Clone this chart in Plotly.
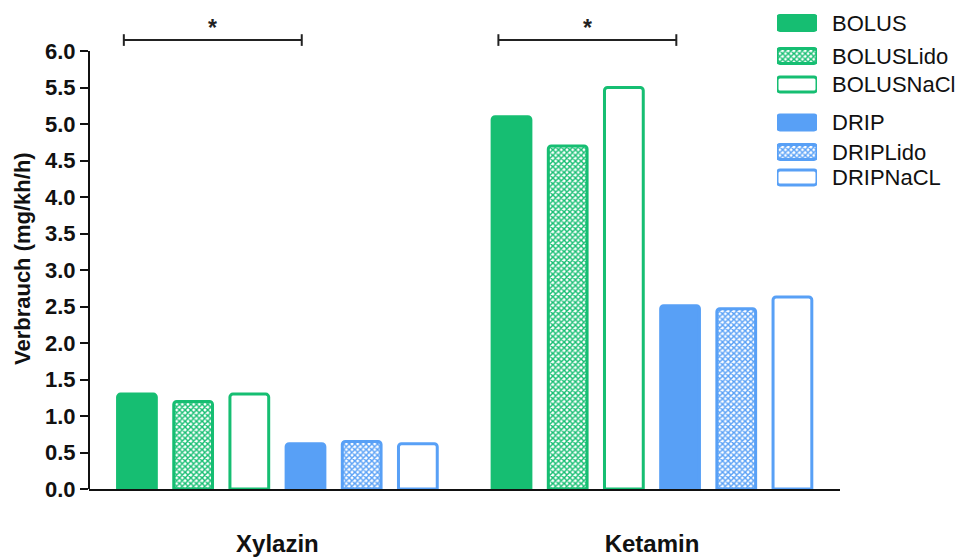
import plotly.graph_objects as go

# Data
drugs = ["Xylazin", "Ketamin"]
groups = ["BOLUS", "BOLUSLido", "BOLUSNaCl", "DRIP", "DRIPLido", "DRIPNaCL"]
bolus = [1.30, 5.10]
bolus_lido = [1.20, 4.70]
bolus_nacl = [1.30, 5.50]
drip = [0.62, 2.51]
drip_lido = [0.65, 2.47]
drip_nacl = [0.62, 2.63]
series = [bolus, bolus_lido, bolus_nacl, drip, drip_lido, drip_nacl]
y_ticks = [0, 0.5, 1, 1.5, 2, 2.5, 3, 3.5, 4, 4.5, 5, 5.5, 6]
# significance brackets: (drug index, first group index, last group index, label)
brackets = [(0, 0, 3, "*"), (1, 0, 3, "*")]

# Styles
GREEN = "#16BE72"
BLUE = "#58A0F6"
colors = [GREEN, GREEN, GREEN, BLUE, BLUE, BLUE]
fills = ["solid", "pattern", "open", "solid", "pattern", "open"]
FONT = "Liberation Sans, Arial, sans-serif"
BARGAP = 0.10
BARGROUPGAP = 0.31
LINE_W = 3


def marker_for(color, fill):
    m = dict(line=dict(color=color, width=LINE_W), cornerradius=3)
    if fill == "solid":
        m["color"] = color
    elif fill == "open":
        m["color"] = "white"
    else:
        m["color"] = "white"
        m["pattern"] = dict(shape="x", size=4, solidity=0.6,
                            fgcolor=color, bgcolor="white", fillmode="replace")
    return m


fig = go.Figure()
for name, vals, c, f in zip(groups, series, colors, fills):
    fig.add_trace(go.Bar(x=drugs, y=vals, name=name, marker=marker_for(c, f),
                         showlegend=False, xaxis="x", yaxis="y"))

# Legend: an inset of horizontal swatches with the group names on the right
legend_pos = [23, 56, 84.5, 122.5, 152, 177.5]
for name, ypos, c, f in zip(groups, legend_pos, colors, fills):
    fig.add_trace(go.Bar(
        y=[ypos], x=[1], base=0, orientation="h", width=15, offsetgroup="legend",
        marker=marker_for(c, f), showlegend=False, hoverinfo="skip",
        xaxis="x2", yaxis="y2",
    ))

# bar slot geometry for bracket placement
slot_w = (1 - BARGAP) / len(groups)


def slot_center(drug_idx, g_idx):
    return drug_idx + (g_idx - (len(groups) - 1) / 2) * slot_w


shapes = [
    # y axis line up to the top tick only
    dict(type="line", xref="paper", yref="y", x0=0, x1=0, y0=0, y1=6,
         line=dict(color="#111111", width=2)),
]
annotations = []
for d, g0, g1, lab in brackets:
    x0 = slot_center(d, g0) - 0.035
    x1 = slot_center(d, g1) - 0.01
    yb = 6.15
    shapes.append(dict(type="line", xref="x", yref="y", x0=x0, x1=x1, y0=yb, y1=yb,
                       line=dict(color="#222222", width=2)))
    for xx in (x0, x1):
        shapes.append(dict(type="line", xref="x", yref="y", x0=xx, x1=xx,
                           y0=yb - 0.08, y1=yb + 0.08,
                           line=dict(color="#222222", width=2)))
    annotations.append(dict(x=(x0 + x1) / 2, y=yb, yshift=-3, xref="x", yref="y",
                            text=lab, showarrow=False, yanchor="bottom",
                            font=dict(family=FONT, size=23, color="#222222",
                                      weight="bold")))

annotations.append(dict(xref="paper", x=0, xshift=-67, yref="y", y=3.15,
                        text="Verbrauch (mg/kh/h)", textangle=-90, showarrow=False,
                        xanchor="center", yanchor="middle",
                        font=dict(family=FONT, size=22, color="#111111", weight="bold")))

plot_top_px = 14
plot_bottom_px = 489
px_per_unit = 73
y_top = (plot_bottom_px - plot_top_px) / px_per_unit

fig.update_layout(
    width=960, height=558,
    margin=dict(l=89, r=120, t=plot_top_px, b=558 - plot_bottom_px, autoexpand=False),
    paper_bgcolor="white", plot_bgcolor="white",
    barmode="group", bargap=BARGAP, bargroupgap=BARGROUPGAP,
    showlegend=False,
    font=dict(family=FONT, color="#111111"),
    xaxis=dict(
        type="category", range=[-0.503, 1.502], showline=True, linecolor="#111111",
        linewidth=2, ticks="", showgrid=False, zeroline=False,
        tickfont=dict(family=FONT, size=24, color="#111111", weight="bold"),
        ticklabelstandoff=32, fixedrange=True,
    ),
    yaxis=dict(
        range=[0, y_top], tickvals=y_ticks, tickformat=".1f", showline=False,
        ticks="outside", ticklen=8, tickwidth=2, tickcolor="#111111",
        showgrid=False, zeroline=False,
        tickfont=dict(family=FONT, size=22, color="#111111", weight="bold"),
        fixedrange=True,
    ),
    xaxis2=dict(domain=[(777 - 89) / 751, (817 - 89) / 751], range=[0, 1],
                anchor="y2", visible=False, fixedrange=True),
    yaxis2=dict(domain=[(489 - 190) / 475, 1.0], range=[190, 14], anchor="x2",
                side="right", tickvals=legend_pos, ticktext=groups, ticks="",
                showline=False, showgrid=False, zeroline=False,
                ticklabelstandoff=14,
                tickfont=dict(family=FONT, size=22, color="#111111"),
                fixedrange=True),
    shapes=shapes,
    annotations=annotations,
)

fig.write_html("out.html")
